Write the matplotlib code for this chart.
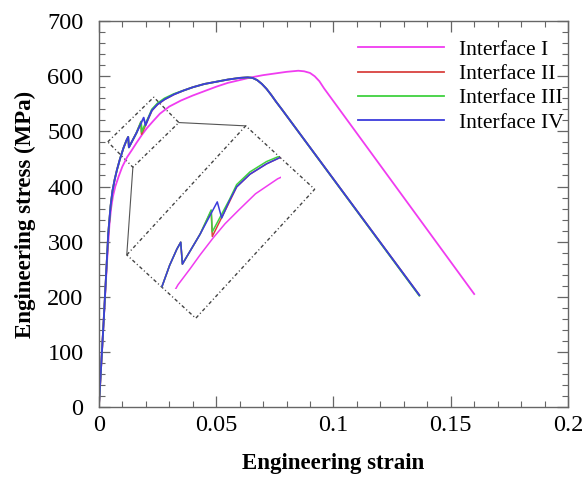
import numpy as np
import matplotlib
matplotlib.use('Agg')
import matplotlib.pyplot as plt
from matplotlib.transforms import Affine2D, Bbox, TransformedBbox
from matplotlib.patches import Polygon
from matplotlib.ticker import MultipleLocator

plt.rcParams['font.family'] = ['Liberation Serif', 'DejaVu Serif']

# 曲线数据 (应变, 应力 MPa)
strain_1 = [0, 0.0021, 0.0035, 0.0045, 0.0052, 0.0060, 0.0070, 0.0085, 0.0100, 0.0120, 0.0142,
            0.0160, 0.0184, 0.0205, 0.0230, 0.0260, 0.0300, 0.0350, 0.0400, 0.0450, 0.0500,
            0.0550, 0.0600, 0.0650, 0.0700, 0.0750, 0.0800, 0.0850, 0.0875, 0.0900, 0.0920,
            0.0940, 0.0960, 0.1600]
stress_1 = [0, 160, 265, 330, 360, 382, 400, 419, 436, 453, 467,
            479, 494, 506, 518, 532, 545, 556, 565, 573, 581,
            588, 593, 598, 602, 605, 608, 610, 609, 606, 600,
            591, 578, 205]

strain_2 = [0, 0.0021, 0.0040, 0.0050, 0.0058, 0.0067, 0.0077, 0.0090, 0.0105, 0.0118, 0.0125, 0.0128,
            0.0160, 0.0180, 0.0182, 0.0213, 0.0226, 0.0250, 0.0280, 0.0320, 0.0360, 0.0400,
            0.0450, 0.0500, 0.0550, 0.0600, 0.0635, 0.0655, 0.0675, 0.0695, 0.0715, 0.0735,
            0.0755, 0.0780, 0.1366]
stress_2 = [0, 160, 315, 365, 392, 412, 430, 450, 470, 484, 490, 471,
            497, 517, 495, 525, 538, 549, 558, 567, 574, 580,
            586, 590, 594, 597, 598, 597, 593, 586, 577, 566,
            554, 540, 203]

strain_3 = [0, 0.0021, 0.0040, 0.0050, 0.0058, 0.0067, 0.0077, 0.0090, 0.0105, 0.0118, 0.0125, 0.0128,
            0.0160, 0.0180, 0.0182, 0.0213, 0.0226, 0.0250, 0.0280, 0.0320, 0.0360, 0.0400,
            0.0450, 0.0500, 0.0550, 0.0600, 0.0635, 0.0655, 0.0675, 0.0695, 0.0715, 0.0735,
            0.0755, 0.0780, 0.1366]
stress_3 = [0, 160, 315, 365, 392, 412, 430, 450, 470, 484, 490, 471,
            497, 518, 499, 527, 540, 551, 560, 568, 574, 580,
            586, 590, 594, 597, 598, 597, 593, 586, 577, 566,
            554, 540, 202]

strain_4 = [0, 0.0021, 0.0040, 0.0050, 0.0058, 0.0067, 0.0077, 0.0090, 0.0105, 0.0118, 0.0125, 0.0128,
            0.0160, 0.0191, 0.0199, 0.0213, 0.0226, 0.0250, 0.0280, 0.0320, 0.0360, 0.0400,
            0.0450, 0.0500, 0.0550, 0.0600, 0.0635, 0.0655, 0.0675, 0.0695, 0.0715, 0.0735,
            0.0755, 0.0780, 0.1366]
stress_4 = [0, 160, 315, 365, 392, 412, 430, 450, 470, 484, 490, 471,
            497, 525, 511, 526, 538, 549, 558, 567, 574, 580,
            586, 590, 594, 597, 598, 597, 593, 586, 577, 566,
            554, 540, 203]

labels = ['Interface I', 'Interface II', 'Interface III', 'Interface IV']
colors = ['#f03cf0', '#d9423f', '#3fd13f', '#3c3cdc']

# 局部放大框: 角点 A, B, D (数据坐标)
zoom_src = [(0.0038, 481), (0.0234, 562), (0.0145, 435)]
zoom_dst = [(0.0119, 276), (0.0626, 510), (0.0413, 161)]
# 放大图: 源窗口 (应变上限, 应力下限), 锚点与缩放
zoom_window = [(0.0, 449), (0.0307, 700)]
zoom_anchor_src = (0.0125, 490)
zoom_anchor_dst = (0.0349, 299)
zoom_scale = (2.36, 2.09)

fig = plt.figure(figsize=(5.85, 4.8), dpi=100)
ax = fig.add_axes([0.169, 0.152, 0.802, 0.804])

curves = [(strain_1, stress_1), (strain_2, stress_2), (strain_3, stress_3), (strain_4, stress_4)]
for (x, y), c, lab in zip(curves, colors, labels):
    ax.plot(x, y, color=c, lw=1.3, label=lab)

src = np.array(zoom_src, dtype=float)
dst = np.array(zoom_dst, dtype=float)
small_box = np.array([src[0], src[1], src[1] + src[2] - src[0], src[2]])
big_box = np.array([dst[0], dst[1], dst[1] + dst[2] - dst[0], dst[2]])

# 放大曲线
zm = (Affine2D().translate(-zoom_anchor_src[0], -zoom_anchor_src[1])
      .scale(*zoom_scale).translate(*zoom_anchor_dst))
tr = zm + ax.transData
win = TransformedBbox(Bbox(zoom_window), tr)
clip = Polygon(big_box, closed=True, transform=ax.transData)
for (x, y), c in zip(curves, colors):
    ln, = ax.plot(x, y, color=c, lw=1.1, transform=tr)
    ln.set_clip_box(win)
    ln.set_clip_path(clip)

dash = (0, (2.5, 1.8, 0.8, 1.8))
ax.add_patch(Polygon(small_box, closed=True, fill=False, ec='#444444', lw=1.0, ls=dash))
ax.add_patch(Polygon(big_box, closed=True, fill=False, ec='#444444', lw=1.0, ls=dash))
# 连接线
ax.plot([small_box[2][0], big_box[1][0]], [small_box[2][1], big_box[1][1]], color='#555555', lw=0.8)
ax.plot([small_box[3][0], big_box[0][0]], [small_box[3][1], big_box[0][1]], color='#555555', lw=0.8)

ax.set_xlim(0, 0.2)
ax.set_ylim(0, 700)
ax.set_xticks([0, 0.05, 0.1, 0.15, 0.2])
ax.set_xticklabels(['0', '0.05', '0.1', '0.15', '0.2'])
ax.set_yticks(range(0, 701, 100))
ax.xaxis.set_minor_locator(MultipleLocator(0.01))
ax.yaxis.set_minor_locator(MultipleLocator(20))
ax.tick_params(which='both', direction='in', top=True, right=True, color='#666666', labelsize=17.5)
ax.tick_params(which='major', length=8, width=0.9)
ax.tick_params(which='minor', length=4.3, width=0.8)
ax.tick_params(axis='y', pad=11)
ax.tick_params(axis='x', pad=6)
for s in ax.spines.values():
    s.set_color('#666666')
    s.set_linewidth(1.0)

ax.set_xlabel('Engineering strain', fontsize=16.5, fontweight='bold', labelpad=12)
ax.set_ylabel('Engineering stress (MPa)', fontsize=16.5, fontweight='bold', labelpad=8)

ax.legend(loc='upper left', bbox_to_anchor=(0.552, 0.952), frameon=False, fontsize=15.5,
          handlelength=4.0, handletextpad=0.7, labelspacing=0.2, borderpad=0, borderaxespad=0)

plt.savefig('out.png', dpi=100)
